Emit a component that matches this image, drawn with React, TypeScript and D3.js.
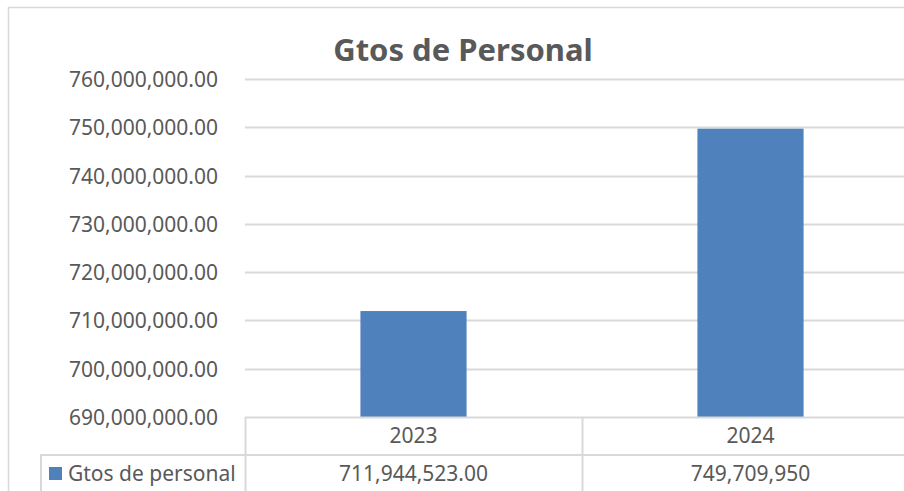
import React, { useEffect, useRef } from 'react';
import * as d3 from 'd3';

const categories = ['2023', '2024'];
const values = [711944523, 749709950];
const valueLabels = ['711,944,523.00', '749,709,950'];
const seriesName = 'Gtos de personal';
const title = 'Gtos de Personal';
const yTicks = [690000000, 700000000, 710000000, 720000000, 730000000, 740000000, 750000000, 760000000];

export default function App() {
  const svgRef = useRef<SVGSVGElement>(null);

  useEffect(() => {
    if (!svgRef.current) return;
    const width = 904;
    const height = 491;
    const font = '"Noto Sans", Lato, sans-serif';
    const fs = 21;
    const textColor = '#595959';
    const lineColor = '#d9d9d9';
    const barColor = '#4f81bd';

    const svg = d3.select(svgRef.current);
    svg.selectAll('*').remove();
    svg.attr('width', width).attr('height', height);

    svg.append('rect').attr('width', width).attr('height', height).attr('fill', '#fff');

    // chart border (runs off the right/bottom edge)
    svg.append('rect')
      .attr('x', 8.5).attr('y', 7.5)
      .attr('width', 1000).attr('height', 1000)
      .attr('fill', 'none').attr('stroke', lineColor).attr('stroke-width', 1.5);

    const plotLeft = 245;
    const plotRight = 919;
    const y = d3.scaleLinear().domain([690000000, 760000000]).range([417, 79]);
    const x = d3.scaleBand().domain(categories).range([plotLeft, plotRight]).paddingInner(0).paddingOuter(0);
    const barW = x.bandwidth() * 0.315;

    // title
    svg.append('text')
      .attr('x', 463).attr('y', 61)
      .attr('text-anchor', 'middle')
      .attr('font-family', font).attr('font-weight', 'bold').attr('font-size', 31)
      .attr('fill', textColor)
      .text(title);

    // gridlines
    svg.append('g').selectAll('line')
      .data(yTicks.slice(1))
      .enter().append('line')
      .attr('x1', plotLeft).attr('x2', plotRight)
      .attr('y1', d => Math.round(y(d)) + 0.5).attr('y2', d => Math.round(y(d)) + 0.5)
      .attr('stroke', lineColor).attr('stroke-width', 2);

    // y labels
    svg.append('g').selectAll('text')
      .data(yTicks)
      .enter().append('text')
      .attr('x', 218).attr('y', d => y(d) + 8)
      .attr('text-anchor', 'end')
      .attr('font-family', font).attr('font-size', fs)
      .attr('fill', textColor)
      .text(d => d3.format(',.2f')(d));

    // bars
    svg.append('g').selectAll('rect')
      .data(values)
      .enter().append('rect')
      .attr('x', (_, i) => x(categories[i])! + (x.bandwidth() - barW) / 2)
      .attr('width', barW)
      .attr('y', d => y(d))
      .attr('height', d => y(690000000) - y(d))
      .attr('fill', barColor);

    // data table
    const rowTop = 417;
    const rowMid = 455;
    const tbl = svg.append('g').attr('stroke', lineColor).attr('stroke-width', 2);
    tbl.append('line').attr('x1', plotLeft).attr('x2', plotRight).attr('y1', rowTop + 0.5).attr('y2', rowTop + 0.5);
    tbl.append('line').attr('x1', 40).attr('x2', plotRight).attr('y1', rowMid).attr('y2', rowMid);
    tbl.append('line').attr('x1', 41).attr('x2', 41).attr('y1', rowMid).attr('y2', height);
    tbl.selectAll('.v')
      .data(categories)
      .enter().append('line')
      .attr('x1', d => Math.round(x(d)!) + 0.5).attr('x2', d => Math.round(x(d)!) + 0.5)
      .attr('y1', rowTop).attr('y2', height);

    svg.append('g').selectAll('text')
      .data(categories)
      .enter().append('text')
      .attr('x', d => x(d)! + x.bandwidth() / 2).attr('y', 443)
      .attr('text-anchor', 'middle')
      .attr('font-family', font).attr('font-size', fs)
      .attr('fill', textColor)
      .text(d => d);

    svg.append('g').selectAll('text')
      .data(valueLabels)
      .enter().append('text')
      .attr('x', (_, i) => x(categories[i])! + x.bandwidth() / 2).attr('y', 481)
      .attr('text-anchor', 'middle')
      .attr('font-family', font).attr('font-size', fs)
      .attr('fill', textColor)
      .text(d => d);

    // legend key
    svg.append('rect').attr('x', 49).attr('y', 467).attr('width', 13).attr('height', 13).attr('fill', barColor);
    svg.append('text')
      .attr('x', 68).attr('y', 481)
      .attr('font-family', font).attr('font-size', fs)
      .attr('fill', textColor)
      .text(seriesName);
  }, []);

  return (
    <div style={{ position: 'absolute', left: 0, top: 0, width: 904, height: 491, overflow: 'hidden' }}>
      <svg ref={svgRef} style={{ display: 'block' }} />
    </div>
  );
}
